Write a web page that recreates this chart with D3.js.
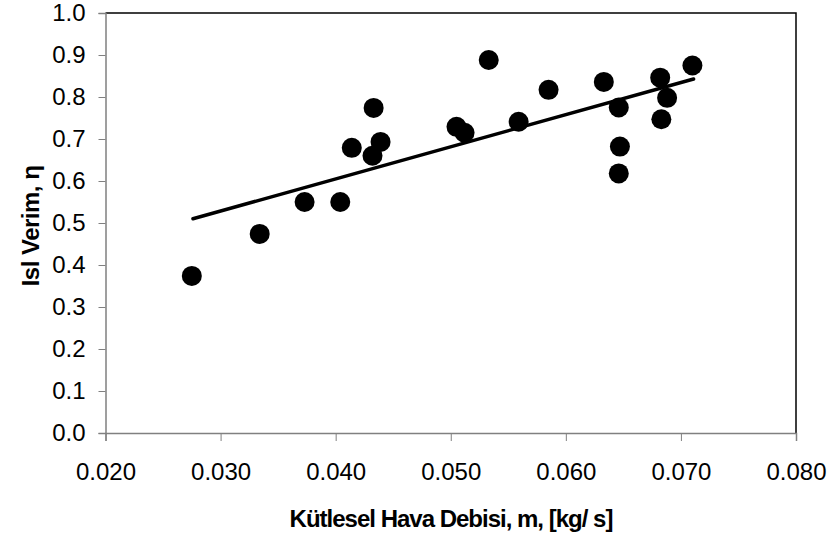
<!DOCTYPE html>
<html>
<head>
<meta charset="utf-8">
<script src="https://cdn.jsdelivr.net/npm/d3@7"></script>
<style>
  body { margin: 0; background: #fff; }
  text { font-family: Arial, "Liberation Sans", sans-serif; }
</style>
</head>
<body>
<script>
// Data
var massFlow = [0.0275, 0.0334, 0.0373, 0.0404, 0.0414, 0.0432, 0.0433, 0.0439,
                0.0505, 0.0512, 0.0533, 0.0559, 0.0585, 0.0633, 0.0646, 0.0647,
                0.0646, 0.0682, 0.0688, 0.0683, 0.0710];
var efficiency = [0.374, 0.474, 0.550, 0.550, 0.679, 0.660, 0.774, 0.693,
                  0.729, 0.715, 0.888, 0.741, 0.817, 0.836, 0.775, 0.682,
                  0.618, 0.846, 0.798, 0.747, 0.875];
var trendX = [0.0276, 0.0711];
var trendY = [0.510, 0.843];
var xTicks = [0.020, 0.030, 0.040, 0.050, 0.060, 0.070, 0.080];
var yTicks = [0.0, 0.1, 0.2, 0.3, 0.4, 0.5, 0.6, 0.7, 0.8, 0.9, 1.0];

var w = 833, h = 543;
var plotL = 105.5, plotR = 796, plotT = 13, plotB = 433;

var svg = d3.select('body').append('svg')
            .attr('width', w)
            .attr('height', h);

var xScale = d3.scaleLinear().domain([0.02, 0.08]).range([plotL, plotR]);
var yScale = d3.scaleLinear().domain([0, 1]).range([plotB, plotT]);

// plot frame (top and right black)
svg.append('path')
   .attr('d', 'M' + plotL + ',' + plotT + 'H' + plotR + 'V' + plotB)
   .attr('fill', 'none')
   .attr('stroke', '#000')
   .attr('stroke-width', 1.5);

// axes
var xAxis = d3.axisBottom(xScale)
              .tickValues(xTicks)
              .tickSize(8)
              .tickFormat(d3.format('.3f'));
var yAxis = d3.axisLeft(yScale)
              .tickValues(yTicks)
              .tickSize(7)
              .tickFormat(d3.format('.1f'));

var gx = svg.append('g')
   .attr('transform', 'translate(0,' + plotB + ')')
   .call(xAxis);
var gy = svg.append('g')
   .attr('transform', 'translate(' + plotL + ',0)')
   .call(yAxis);

[gx, gy].forEach(function(g) {
  g.select('.domain').attr('stroke', '#808080').attr('stroke-width', 1.5);
  g.selectAll('.tick line').attr('stroke', '#808080');
  g.selectAll('.tick text')
   .attr('fill', '#000')
   .style('font-size', '24px')
   .style('font-family', 'Arial, "Liberation Sans", sans-serif');
});
gx.selectAll('.tick text').attr('y', 18).attr('dy', '1.2em');
gy.selectAll('.tick text').attr('x', -20);

// trend line
svg.append('line')
   .attr('x1', xScale(trendX[0]))
   .attr('y1', yScale(trendY[0]))
   .attr('x2', xScale(trendX[1]))
   .attr('y2', yScale(trendY[1]))
   .attr('stroke', '#000')
   .attr('stroke-width', 3.5)
   .attr('stroke-linecap', 'round');

// points
svg.selectAll('circle')
   .data(massFlow)
   .enter()
   .append('circle')
   .attr('cx', function(d) { return xScale(d); })
   .attr('cy', function(d, i) { return yScale(efficiency[i]); })
   .attr('r', 10)
   .attr('fill', '#000');

// axis titles
svg.append('text')
   .attr('x', 451)
   .attr('y', 527)
   .attr('text-anchor', 'middle')
   .style('font-size', '24px')
   .style('font-weight', 'bold')
   .style('letter-spacing', '-1px')
   .text('Kütlesel Hava Debisi, m, [kg/ s]');

svg.append('text')
   .attr('transform', 'translate(39,226) rotate(-90)')
   .attr('text-anchor', 'middle')
   .style('font-size', '24px')
   .style('font-weight', 'bold')
   .style('letter-spacing', '-0.5px')
   .text('Isl Verim, η');
</script>
</body>
</html>
